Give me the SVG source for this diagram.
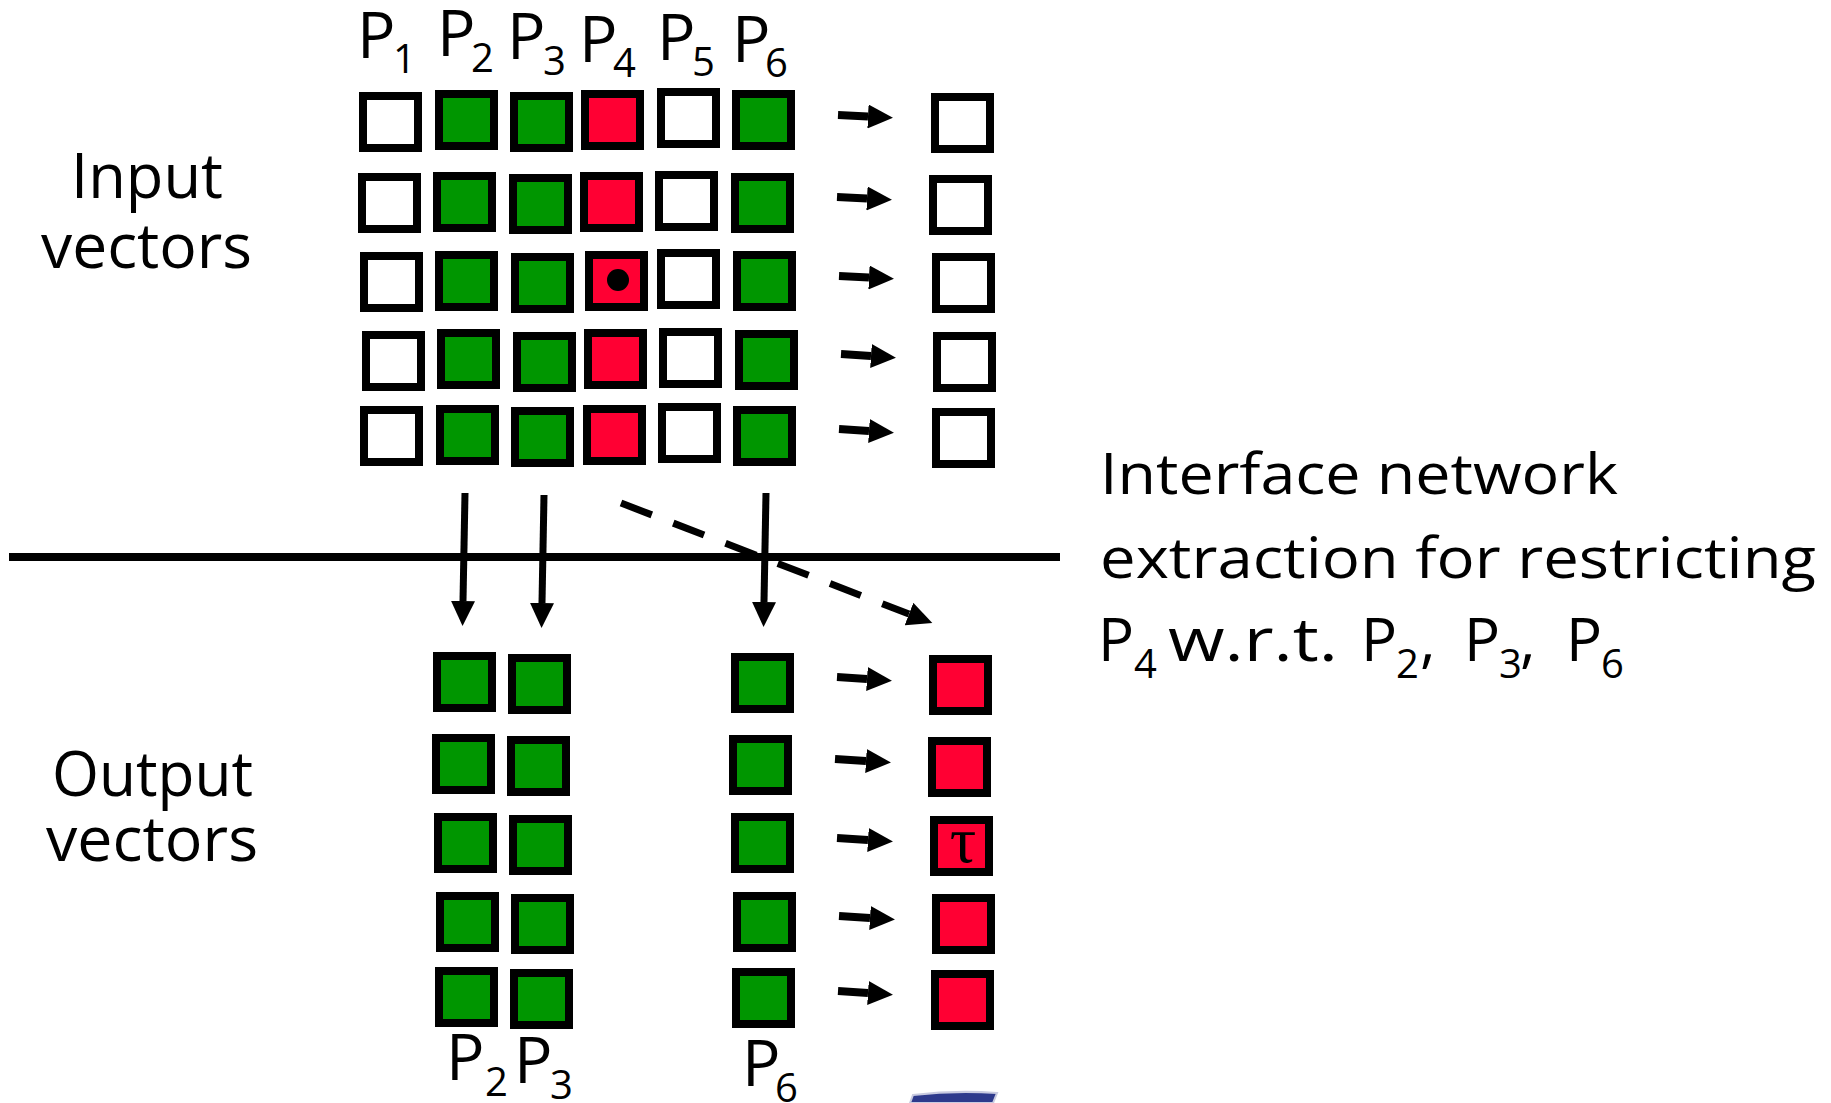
<svg xmlns="http://www.w3.org/2000/svg" width="1831" height="1103" viewBox="0 0 1831 1103">
<style>
.box{stroke:#000;stroke-width:8}
.w{fill:#fff}.g{fill:#009600}.r{fill:#ff0033}
.t{font-family:"Open Sans","DejaVu Sans",sans-serif;fill:#000}
.P{font-size:64px}.s{font-size:40px}
.big{font-size:62px}
.rt{font-size:56px}
.P3{font-size:60px}
.conn{stroke:#000;fill:none}
.h{stroke-width:8}
.v{stroke-width:7}
</style>
<defs>
<marker id="ah" markerUnits="userSpaceOnUse" markerWidth="26" markerHeight="24" refX="0" refY="12" orient="auto" viewBox="0 0 26 24"><path d="M0,0 L25,12 L0,24 z" fill="#000"/></marker>
</defs>
<rect width="1831" height="1103" fill="#fff"/>

<!-- labels -->
<g id="labels-top" class="t">
<text class="P" x="357" y="58">P</text><text class="s" x="393" y="73">1</text>
<text class="P" x="437" y="56">P</text><text class="s" x="471" y="72">2</text>
<text class="P" x="507" y="59">P</text><text class="s" x="543" y="75">3</text>
<text class="P" x="579" y="62">P</text><text class="s" x="613" y="77">4</text>
<text class="P" x="657" y="60">P</text><text class="s" x="692" y="76">5</text>
<text class="P" x="732" y="62">P</text><text class="s" x="765" y="77">6</text>
</g>
<g id="labels-bottom" class="t">
<text class="P" x="446" y="1080">P</text><text class="s" x="485" y="1096">2</text>
<text class="P" x="514" y="1083">P</text><text class="s" x="550" y="1099">3</text>
<text class="P" x="742" y="1086">P</text><text class="s" x="775" y="1102">6</text>
</g>
<g id="label-input" class="t big">
<text x="71" y="198" textLength="152" lengthAdjust="spacingAndGlyphs">Input</text>
<text x="41" y="268" textLength="211" lengthAdjust="spacingAndGlyphs">vectors</text>
</g>
<g id="label-output" class="t big">
<text x="52" y="796" textLength="201" lengthAdjust="spacingAndGlyphs">Output</text>
<text x="46" y="861" textLength="212" lengthAdjust="spacingAndGlyphs">vectors</text>
</g>
<g id="label-desc" class="t rt">
<text x="1100" y="494" textLength="518" lengthAdjust="spacingAndGlyphs">Interface network</text>
<text x="1100" y="578" textLength="716" lengthAdjust="spacingAndGlyphs">extraction for restricting</text>
<text class="P3" x="1098" y="661">P</text><text class="s" x="1134" y="678">4</text>
<text class="P3" x="1168" y="661" textLength="170" lengthAdjust="spacingAndGlyphs">w.r.t.</text>
<text class="P3" x="1361" y="661">P</text><text class="s" x="1396" y="678">2</text><text class="P3" x="1420" y="661">,</text>
<text class="P3" x="1464" y="661">P</text><text class="s" x="1499" y="678">3</text><text class="P3" x="1520" y="661">,</text>
<text class="P3" x="1566" y="661">P</text><text class="s" x="1601" y="678">6</text>
</g>

<!-- separator -->
<line x1="9" y1="557" x2="1060" y2="557" stroke="#000" stroke-width="8"/>

<!-- input rows -->
<g id="in-r1-p1"><rect class="box w" x="363" y="96" width="55" height="52"/></g>
<g id="in-r1-p2"><rect class="box g" x="439" y="94" width="55" height="52"/></g>
<g id="in-r1-p3"><rect class="box g" x="514" y="96" width="55" height="52"/></g>
<g id="in-r1-p4"><rect class="box r" x="585" y="94" width="55" height="52"/></g>
<g id="in-r1-p5"><rect class="box w" x="661" y="92" width="55" height="52"/></g>
<g id="in-r1-p6"><rect class="box g" x="736" y="94" width="55" height="52"/></g>
<g id="in-r1-out"><rect class="box w" x="935" y="97" width="55" height="52"/></g>

<g id="in-r2-p1"><rect class="box w" x="362" y="177" width="55" height="52"/></g>
<g id="in-r2-p2"><rect class="box g" x="437" y="176" width="55" height="52"/></g>
<g id="in-r2-p3"><rect class="box g" x="513" y="178" width="55" height="52"/></g>
<g id="in-r2-p4"><rect class="box r" x="584" y="176" width="55" height="52"/></g>
<g id="in-r2-p5"><rect class="box w" x="659" y="175" width="55" height="52"/></g>
<g id="in-r2-p6"><rect class="box g" x="735" y="177" width="55" height="52"/></g>
<g id="in-r2-out"><rect class="box w" x="933" y="179" width="55" height="52"/></g>

<g id="in-r3-p1"><rect class="box w" x="364" y="256" width="55" height="52"/></g>
<g id="in-r3-p2"><rect class="box g" x="439" y="255" width="55" height="52"/></g>
<g id="in-r3-p3"><rect class="box g" x="515" y="257" width="55" height="52"/></g>
<g id="in-r3-p4"><rect class="box r" x="589" y="255" width="55" height="52"/><circle cx="618" cy="280" r="11" fill="#000"/></g>
<g id="in-r3-p5"><rect class="box w" x="661" y="253" width="55" height="52"/></g>
<g id="in-r3-p6"><rect class="box g" x="737" y="255" width="55" height="52"/></g>
<g id="in-r3-out"><rect class="box w" x="936" y="257" width="55" height="52"/></g>

<g id="in-r4-p1"><rect class="box w" x="366" y="335" width="55" height="52"/></g>
<g id="in-r4-p2"><rect class="box g" x="441" y="333" width="55" height="52"/></g>
<g id="in-r4-p3"><rect class="box g" x="517" y="336" width="55" height="52"/></g>
<g id="in-r4-p4"><rect class="box r" x="588" y="333" width="55" height="52"/></g>
<g id="in-r4-p5"><rect class="box w" x="663" y="332" width="55" height="52"/></g>
<g id="in-r4-p6"><rect class="box g" x="739" y="334" width="55" height="52"/></g>
<g id="in-r4-out"><rect class="box w" x="937" y="336" width="55" height="52"/></g>

<g id="in-r5-p1"><rect class="box w" x="364" y="410" width="55" height="52"/></g>
<g id="in-r5-p2"><rect class="box g" x="440" y="409" width="55" height="52"/></g>
<g id="in-r5-p3"><rect class="box g" x="515" y="411" width="55" height="52"/></g>
<g id="in-r5-p4"><rect class="box r" x="587" y="409" width="55" height="52"/></g>
<g id="in-r5-p5"><rect class="box w" x="662" y="407" width="55" height="52"/></g>
<g id="in-r5-p6"><rect class="box g" x="737" y="410" width="55" height="52"/></g>
<g id="in-r5-out"><rect class="box w" x="936" y="412" width="55" height="52"/></g>

<!-- output rows -->
<g id="out-r1-p2"><rect class="box g" x="437" y="656" width="55" height="52"/></g>
<g id="out-r1-p3"><rect class="box g" x="512" y="658" width="55" height="52"/></g>
<g id="out-r1-p6"><rect class="box g" x="735" y="657" width="55" height="52"/></g>
<g id="out-r1-p4"><rect class="box r" x="933" y="659" width="55" height="52"/></g>

<g id="out-r2-p2"><rect class="box g" x="436" y="738" width="55" height="52"/></g>
<g id="out-r2-p3"><rect class="box g" x="511" y="740" width="55" height="52"/></g>
<g id="out-r2-p6"><rect class="box g" x="733" y="739" width="55" height="52"/></g>
<g id="out-r2-p4"><rect class="box r" x="932" y="741" width="55" height="52"/></g>

<g id="out-r3-p2"><rect class="box g" x="438" y="817" width="55" height="52"/></g>
<g id="out-r3-p3"><rect class="box g" x="513" y="819" width="55" height="52"/></g>
<g id="out-r3-p6"><rect class="box g" x="735" y="817" width="55" height="52"/></g>
<g id="out-r3-p4"><rect class="box r" x="934" y="820" width="55" height="52"/><text x="963" y="862" text-anchor="middle" font-family="'Liberation Serif','DejaVu Serif',serif" font-size="66">τ</text></g>

<g id="out-r4-p2"><rect class="box g" x="440" y="896" width="55" height="52"/></g>
<g id="out-r4-p3"><rect class="box g" x="515" y="898" width="55" height="52"/></g>
<g id="out-r4-p6"><rect class="box g" x="737" y="896" width="55" height="52"/></g>
<g id="out-r4-p4"><rect class="box r" x="936" y="898" width="55" height="52"/></g>

<g id="out-r5-p2"><rect class="box g" x="439" y="971" width="55" height="52"/></g>
<g id="out-r5-p3"><rect class="box g" x="514" y="973" width="55" height="52"/></g>
<g id="out-r5-p6"><rect class="box g" x="736" y="972" width="55" height="52"/></g>
<g id="out-r5-p4"><rect class="box r" x="935" y="974" width="55" height="52"/></g>

<!-- connectors -->
<g id="connectors" class="conn">
<path class="h" d="M838,115 L868,116.5" marker-end="url(#ah)"/>
<path class="h" d="M837,197 L867,198.5" marker-end="url(#ah)"/>
<path class="h" d="M839,276 L869,277.5" marker-end="url(#ah)"/>
<path class="h" d="M841,354 L871,356" marker-end="url(#ah)"/>
<path class="h" d="M839,429 L869,431" marker-end="url(#ah)"/>
<path class="h" d="M837,677 L867,679" marker-end="url(#ah)"/>
<path class="h" d="M835,759 L866,761" marker-end="url(#ah)"/>
<path class="h" d="M837,838 L868,840" marker-end="url(#ah)"/>
<path class="h" d="M839,916 L870,918" marker-end="url(#ah)"/>
<path class="h" d="M838,991 L868,993" marker-end="url(#ah)"/>
<path class="v" d="M465,493 L463,601" marker-end="url(#ah)"/>
<path class="v" d="M544,495 L542,603" marker-end="url(#ah)"/>
<path class="v" d="M766,493 L764,602" marker-end="url(#ah)"/>
<path class="v" d="M621,503 L909,614" stroke-dasharray="33 23" marker-end="url(#ah)"/>
</g>

<!-- partial logo at bottom edge -->
<path d="M910,1103 L913,1095 Q955,1090 997,1093 L993,1103 Z" fill="#2e3a8c" stroke="#c9cbe0" stroke-width="2"/>
</svg>
